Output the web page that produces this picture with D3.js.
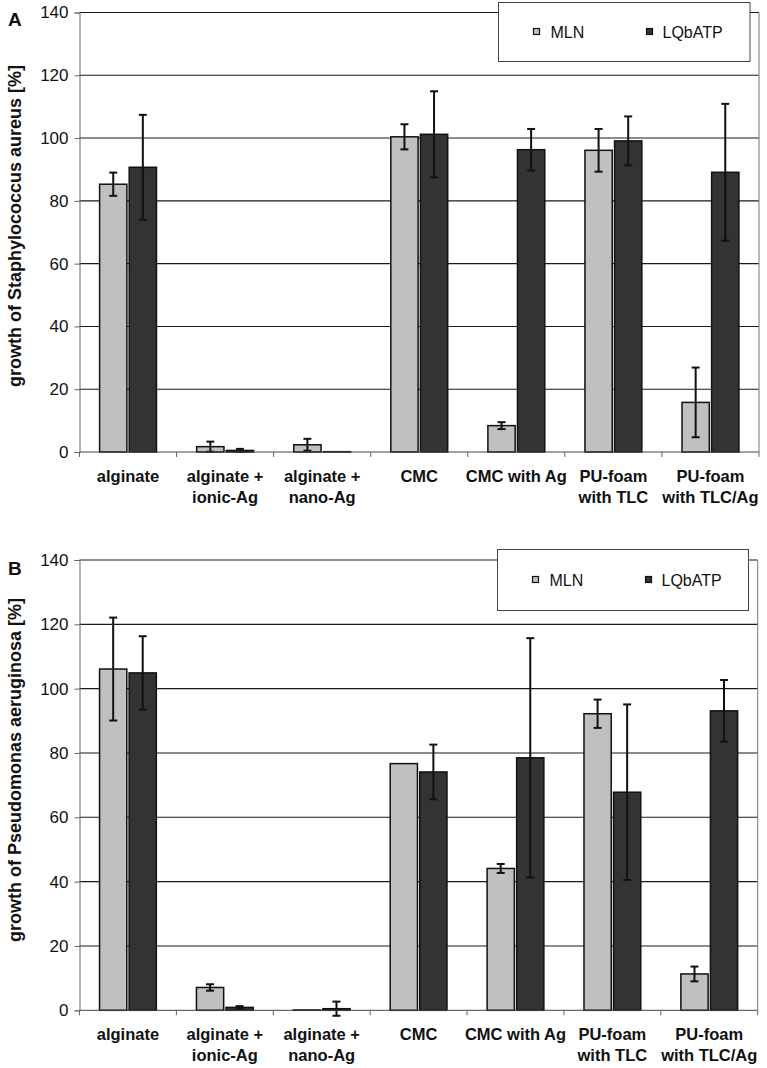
<!DOCTYPE html>
<html>
<head>
<meta charset="utf-8">
<script src="https://cdn.jsdelivr.net/npm/d3@7"></script>
<style>
  html, body { margin: 0; padding: 0; background: #fff; }
  svg { display: block; font-family: "Liberation Sans", Arial, sans-serif; }
</style>
</head>
<body>
<svg id="chart" width="767" height="1068"></svg>
<script>
// ---------- data ----------
const categories = ["alginate", "alginate + ionic-Ag", "alginate + nano-Ag", "CMC", "CMC with Ag", "PU-foam with TLC", "PU-foam with TLC/Ag"];
const categoryLines = [["alginate"], ["alginate +", "ionic-Ag"], ["alginate +", "nano-Ag"], ["CMC"], ["CMC with Ag"], ["PU-foam", "with TLC"], ["PU-foam", "with TLC/Ag"]];
const seriesNames = ["MLN", "LQbATP"];
const yTicks = [0, 20, 40, 60, 80, 100, 120, 140];

// Panel A: Staphylococcus aureus
const mlnA      = [85.3, 1.7, 2.3, 100.4, 8.4, 96.1, 15.8];
const mlnAErr   = [3.7, 1.6, 1.9, 4.0, 1.1, 6.8, 11.1];
const lqbatpA   = [90.7, 0.5, 0.1, 101.2, 96.3, 99.1, 89.1];
const lqbatpAErr= [16.7, 0.5, 0, 13.7, 6.6, 7.8, 21.8];

// Panel B: Pseudomonas aeruginosa
const mlnB      = [106.1, 7.1, 0.1, 76.7, 44.1, 92.2, 11.3];
const mlnBErr   = [16.0, 1.0, 0, 0, 1.4, 4.4, 2.3];
const lqbatpB   = [104.9, 0.9, 0.5, 74.1, 78.5, 67.8, 93.1];
const lqbatpBErr= [11.4, 0.4, 2.2, 8.5, 37.2, 27.3, 9.6];

const colors = { "MLN": "#c0c0c0", "LQbATP": "#333333" };

const svg = d3.select("#chart");

function drawPanel(cfg) {
  const { left, right, top, bottom, letter, letterY, title, titleCenter, legend, mln, mlnErr, lq, lqErr } = cfg;
  const g = svg.append("g");

  const x = d3.scaleBand().domain(categories).range([left, right]).padding(0);
  const bw = x.bandwidth();
  const xs = d3.scaleBand().domain(seriesNames)
    .range([bw * 0.207, bw * 0.793]).paddingInner(0.078).paddingOuter(0);
  const y = d3.scaleLinear().domain([0, 140]).range([bottom, top]);

  // gridlines
  g.append("g").selectAll("line").data(yTicks.filter(t => t > 0)).join("line")
    .attr("x1", left).attr("x2", right)
    .attr("y1", d => y(d)).attr("y2", d => y(d))
    .attr("stroke", "#1a1a1a").attr("stroke-width", 1.1);
  // right border
  g.append("line").attr("x1", right).attr("x2", right).attr("y1", top).attr("y2", bottom)
    .attr("stroke", "#777").attr("stroke-width", 1);

  // y axis
  const yAxis = d3.axisLeft(y).tickValues(yTicks).tickSize(5).tickPadding(6);
  const ya = g.append("g").attr("transform", `translate(${left},0)`).call(yAxis);
  ya.select(".domain").attr("stroke", "#666").attr("stroke-width", 1);
  ya.selectAll(".tick line").attr("stroke", "#666");
  ya.selectAll(".tick text").attr("font-size", 17).attr("fill", "#111")
    .attr("font-family", "Liberation Sans, Arial, sans-serif");

  // bars
  const rows = categories.map((c, i) => ({
    cat: c,
    vals: [
      { s: "MLN", v: mln[i], e: mlnErr[i] },
      { s: "LQbATP", v: lq[i], e: lqErr[i] }
    ]
  }));
  const grp = g.append("g").selectAll("g").data(rows).join("g")
    .attr("transform", d => `translate(${x(d.cat)},0)`);
  grp.selectAll("rect").data(d => d.vals).join("rect")
    .attr("x", d => xs(d.s)).attr("width", xs.bandwidth())
    .attr("y", d => y(d.v)).attr("height", d => y(0) - y(d.v))
    .attr("fill", d => colors[d.s]).attr("stroke", "#111").attr("stroke-width", 1.5);

  // error bars
  const eb = grp.selectAll("g.err").data(d => d.vals.filter(v => v.e > 0)).join("g").attr("class", "err");
  const cx = d => xs(d.s) + xs.bandwidth() / 2;
  eb.append("line").attr("x1", cx).attr("x2", cx)
    .attr("y1", d => y(d.v + d.e)).attr("y2", d => y(d.v - d.e))
    .attr("stroke", "#111").attr("stroke-width", 2);
  eb.append("line").attr("x1", d => cx(d) - 4).attr("x2", d => cx(d) + 4)
    .attr("y1", d => y(d.v + d.e)).attr("y2", d => y(d.v + d.e))
    .attr("stroke", "#111").attr("stroke-width", 2);
  eb.append("line").attr("x1", d => cx(d) - 4).attr("x2", d => cx(d) + 4)
    .attr("y1", d => y(d.v - d.e)).attr("y2", d => y(d.v - d.e))
    .attr("stroke", "#111").attr("stroke-width", 2);

  // x axis baseline and ticks
  g.append("line").attr("x1", left).attr("x2", right).attr("y1", y(0)).attr("y2", y(0))
    .attr("stroke", "#444").attr("stroke-width", 1);
  const bounds = categories.map(c => x(c)).concat([right]);
  g.append("g").selectAll("line").data(bounds).join("line")
    .attr("x1", d => d).attr("x2", d => d).attr("y1", y(0)).attr("y2", y(0) + 5)
    .attr("stroke", "#666").attr("stroke-width", 1);

  // x labels
  const xl = g.append("g").selectAll("text").data(categories).join("text")
    .attr("x", c => x(c) + bw / 2).attr("y", y(0) + 30)
    .attr("text-anchor", "middle").attr("font-weight", "bold").attr("font-size", 16.5).attr("fill", "#111");
  xl.selectAll("tspan").data((c, i) => categoryLines[i]).join("tspan")
    .attr("x", function () { return d3.select(this.parentNode).attr("x"); })
    .attr("dy", (d, j) => j === 0 ? 0 : 20.7)
    .text(d => d);

  // y title
  g.append("text")
    .attr("transform", `translate(21,${titleCenter}) rotate(-90)`)
    .attr("text-anchor", "middle").attr("font-weight", "bold").attr("font-size", 18).attr("fill", "#111")
    .text(title);

  // panel letter
  g.append("text").attr("x", 8).attr("y", letterY)
    .attr("font-weight", "bold").attr("font-size", 19).attr("fill", "#111").text(letter);

  // legend
  const lg = g.append("g").attr("transform", `translate(${legend.x},${legend.y})`);
  lg.append("rect").attr("width", legend.w).attr("height", legend.h)
    .attr("fill", "#fff").attr("stroke", "#444").attr("stroke-width", 1);
  const items = [{ s: "MLN", sx: 35, tx: 52 }, { s: "LQbATP", sx: 148, tx: 164 }];
  const li = lg.selectAll("g").data(items).join("g");
  li.append("rect").attr("x", d => d.sx).attr("y", legend.h / 2 - 3.5).attr("width", 6).attr("height", 6)
    .attr("fill", d => colors[d.s]).attr("stroke", "#111").attr("stroke-width", 1.2);
  li.append("text").attr("x", d => d.tx).attr("y", legend.h / 2 + 6)
    .attr("font-size", 16).attr("fill", "#111").text(d => d.s);
}

drawPanel({
  left: 79.5, right: 759, top: 12.5, bottom: 452,
  letter: "A", letterY: 26,
  title: "growth of Staphylococcus aureus [%]", titleCenter: 226,
  legend: { x: 498.5, y: 2.5, w: 251.5, h: 59 },
  mln: mlnA, mlnErr: mlnAErr, lq: lqbatpA, lqErr: lqbatpAErr
});

drawPanel({
  left: 79.5, right: 757.7, top: 560, bottom: 1010.3,
  letter: "B", letterY: 575,
  title: "growth of Pseudomonas aeruginosa [%]", titleCenter: 770,
  legend: { x: 497.5, y: 549.5, w: 251, h: 61 },
  mln: mlnB, mlnErr: mlnBErr, lq: lqbatpB, lqErr: lqbatpBErr
});
</script>
</body>
</html>
